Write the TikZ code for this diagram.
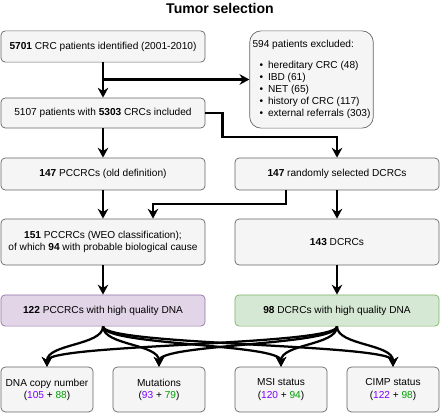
\documentclass[tikz,border=0pt]{standalone}
\usepackage{xcolor}
\usepackage{fontspec}
\setmainfont{Liberation Sans}
\usepackage{tikz}
\usetikzlibrary{arrows.meta,positioning,calc}

\definecolor{boxfill}{HTML}{F5F5F5}
\definecolor{boxline}{HTML}{666666}
\definecolor{pcfill}{HTML}{E1D5E7}
\definecolor{pcline}{HTML}{9673A6}
\definecolor{dfill}{HTML}{D5E8D4}
\definecolor{dline}{HTML}{82B366}
\definecolor{pcnum}{HTML}{7F00FF}
\definecolor{dnum}{HTML}{00A000}

\newcommand{\exitem}[1]{\hspace*{5pt}\textbullet\hspace{3.5pt}#1}

\begin{document}
\begin{tikzpicture}[
    x=0.025cm,
    y=-0.025cm,
    box/.style={
        draw=boxline,
        line width=0.5pt,
        rounded corners=3pt,
        align=center,
        fill=boxfill,
        inner sep=2pt,
        font=\fontsize{7.2}{8.6}\selectfont
    },
    widebox/.style={
        box,
        minimum width=5.1cm,
        minimum height=0.78cm
    },
    smallbox/.style={
        box,
        minimum width=2.3cm,
        minimum height=1.12cm
    },
    arrow/.style={
        -{Stealth[length=7pt,width=7.5pt]},
        line width=1.6pt
    }
]

\useasboundingbox (0,0) rectangle (440,414);

% ==================================================
% Title
% ==================================================

\node[font=\fontsize{10}{12}\selectfont\bfseries] (title) at (220,8)
{Tumor selection};

% ==================================================
% Patient selection
% ==================================================

\node[widebox] (ident) at (103,46.5)
{\textbf{5701} CRC patients identified (2001-2010)};

\node[
    box,
    rounded corners=8pt,
    align=left,
    minimum width=2.93cm,
    minimum height=2.43cm
] (excl) at (311.5,79.5)
{
    594 patients excluded:\\[6pt]
    \exitem{hereditary CRC (48)}\\
    \exitem{IBD (61)}\\
    \exitem{NET (65)}\\
    \exitem{history of CRC (117)}\\
    \exitem{external referrals (303)}
};

\node[widebox, minimum height=0.75cm] (incl) at (103,113)
{5107 patients with \textbf{5303} CRCs included};

% ==================================================
% Tumor groups
% ==================================================

\node[widebox, minimum height=0.8cm] (oldpc) at (103,174)
{\textbf{147} PCCRCs (old definition)};

\node[widebox, minimum height=0.8cm] (randd) at (337,174)
{\textbf{147} randomly selected DCRCs};

\node[widebox, minimum height=1.15cm] (weo) at (103,242)
{
    \textbf{151} PCCRCs (WEO classification);\\
    of which \textbf{94} with probable biological cause
};

\node[widebox, minimum height=1.15cm] (dcrc) at (337,242)
{\textbf{143} DCRCs};

\node[widebox, fill=pcfill, draw=pcline] (pchq) at (103,310.5)
{\textbf{122} PCCRCs with high quality DNA};

\node[widebox, fill=dfill, draw=dline] (dhq) at (337,310.5)
{\textbf{98} DCRCs with high quality DNA};

% ==================================================
% Analyses
% ==================================================

\node[smallbox] (cnv) at (47,389.5)
{DNA copy number\\(\textcolor{pcnum}{105} + \textcolor{dnum}{88})};

\node[smallbox] (mut) at (159,389.5)
{Mutations\\(\textcolor{pcnum}{93} + \textcolor{dnum}{79})};

\node[smallbox] (msi) at (281,389.5)
{MSI status\\(\textcolor{pcnum}{120} + \textcolor{dnum}{94})};

\node[smallbox] (cimp) at (393,389.5)
{CIMP status\\(\textcolor{pcnum}{122} + \textcolor{dnum}{98})};

% ==================================================
% Arrows
% ==================================================

\draw[arrow] (ident.south) -- (incl.north);
\draw[arrow] (ident.south |- excl.west) -- (excl.west);

% Included tumors to random DCRC selection
\draw[arrow] (incl.east) -- ++(17,0) -- ++(0,24) -| (randd.north);

\draw[arrow] (incl.south) -- (oldpc.north);
\draw[arrow] (oldpc.south) -- (weo.north);

% Part of the DCRCs reclassified as PCCRCs
\coordinate (split) at ($(randd.south west)!0.25!(randd.south east)$);
\draw[arrow] (split) -- ++(0,14) -| ($(weo.north)+(50,0)$);

\draw[arrow] (randd.south) -- (dcrc.north);
\draw[arrow] (weo.south) -- (pchq.north);
\draw[arrow] (dcrc.south) -- (dhq.north);

% Curved arrows to the four analyses
\foreach \src in {pchq,dhq}{
    \foreach \dst in {cnv,mut,msi,cimp}{
        \draw[arrow] (\src.south) .. controls ($(\src.south)+(0,19)$)
            and ($(\dst.north)+(0,-23)$) .. (\dst.north);
    }
}

\end{tikzpicture}
\end{document}
